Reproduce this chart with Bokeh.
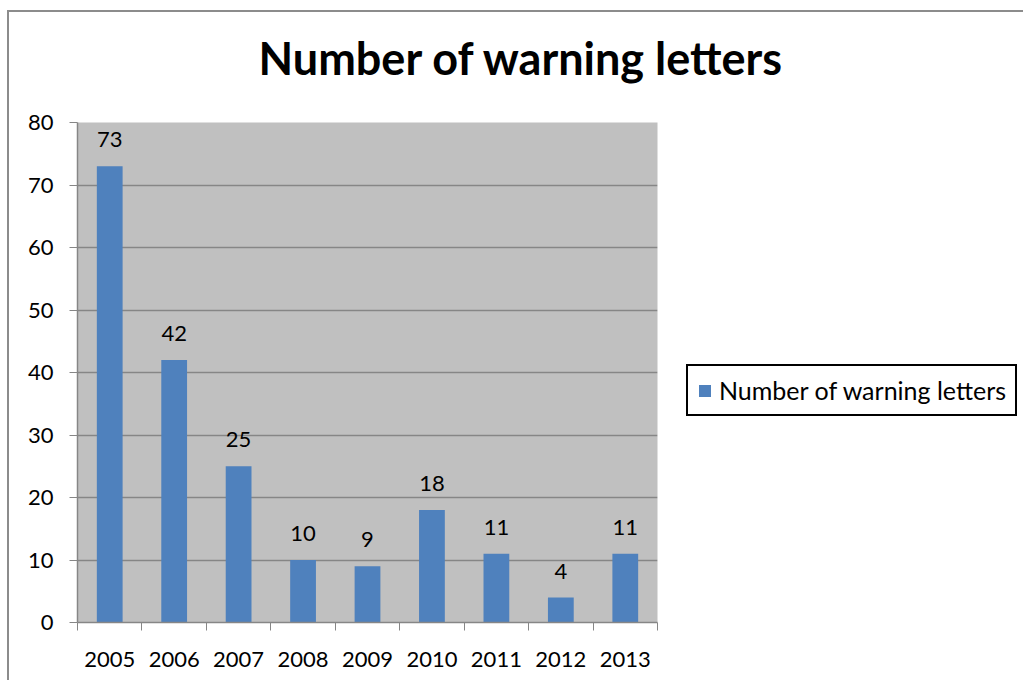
from bokeh.plotting import figure
from bokeh.models import (ColumnDataSource, FixedTicker, Legend, LegendItem,
                          LabelSet, Range1d, Title)
from bokeh.core.properties import value
from bokeh.embed import file_html
from bokeh.resources import INLINE

# Data
years = ["2005", "2006", "2007", "2008", "2009", "2010", "2011", "2012", "2013"]
letters = [73, 42, 25, 10, 9, 18, 11, 4, 11]
series_name = "Number of warning letters"
title_text = "Number of warning letters"
y_ticks = [0, 10, 20, 30, 40, 50, 60, 70, 80]

FONT = "Lato"
BAR = "#4F81BD"
GRID = "#868686"

xpos = [i + 0.5 for i in range(len(years))]
src = ColumnDataSource(dict(x=xpos, y=letters, lbl=[str(v) for v in letters]))

p = figure(frame_width=580, frame_height=500, output_backend="svg",
           toolbar_location=None,
           x_range=Range1d(0, len(years)), y_range=Range1d(0, 80),
           min_border_left=68, min_border_right=0, min_border_top=110,
           min_border_bottom=58)
p.margin = (10, 0, 0, 7)
p.styles = {"border-left": "2px solid #8c8c8c", "border-top": "2px solid #8c8c8c"}
p.background_fill_color = "#C0C0C0"
p.border_fill_color = "white"
p.outline_line_color = None

# blank gap between the plot area and the heading
p.add_layout(Title(text=" ", text_font_size="1px", standoff=30), "above")
p.add_layout(Title(text=title_text, align="left", offset=181, standoff=10,
                   text_font=FONT, text_font_size="45px", text_font_style="bold",
                   text_color="black"), "above")

r = p.vbar(x="x", top="y", width=0.4, source=src, fill_color=BAR, line_color=None)

labels = LabelSet(x="x", y="y", text="lbl", source=src, text_align="center",
                  text_baseline="alphabetic", y_offset=19, text_font=value(FONT),
                  text_font_size=value("22px"), text_color="black")
p.add_layout(labels)

# x axis: boundary ticks as minor ticks, year labels at bar centres
p.xaxis.ticker = FixedTicker(ticks=xpos, minor_ticks=list(range(len(years) + 1)))
p.xaxis.major_label_overrides = {x: y for x, y in zip(xpos, years)}
p.xaxis.major_tick_out = 0
p.xaxis.major_tick_in = 0
p.xaxis.minor_tick_out = 8
p.xaxis.minor_tick_in = 0
p.xaxis.minor_tick_line_color = GRID
p.xaxis.major_label_standoff = 21

p.yaxis.ticker = FixedTicker(ticks=y_ticks)
p.yaxis.major_tick_out = 8
p.yaxis.major_tick_in = 0
p.yaxis.minor_tick_out = 0
p.yaxis.minor_tick_in = 0
p.yaxis.major_tick_line_color = GRID
p.yaxis.major_label_standoff = 16

for ax in (p.xaxis, p.yaxis):
    ax.major_label_text_font = FONT
    ax.major_label_text_font_size = "22px"
    ax.major_label_text_color = "black"
    ax.axis_line_color = GRID
    ax.axis_line_width = 1.5

p.xgrid.grid_line_color = None
p.ygrid.ticker = FixedTicker(ticks=y_ticks)
p.ygrid.grid_line_color = GRID
p.ygrid.grid_line_width = 1.5

legend = Legend(items=[LegendItem(label=series_name, renderers=[r])],
                location=(29, 206), orientation="vertical",
                label_text_font=FONT, label_text_font_size="25px",
                label_text_color="black",
                border_line_color="black", border_line_width=2,
                border_line_alpha=1.0,
                background_fill_color="white", glyph_width=15, glyph_height=15,
                label_standoff=7, padding=9, margin=0)
p.add_layout(legend, "right")

open("out.html", "w").write(file_html(p, INLINE))
